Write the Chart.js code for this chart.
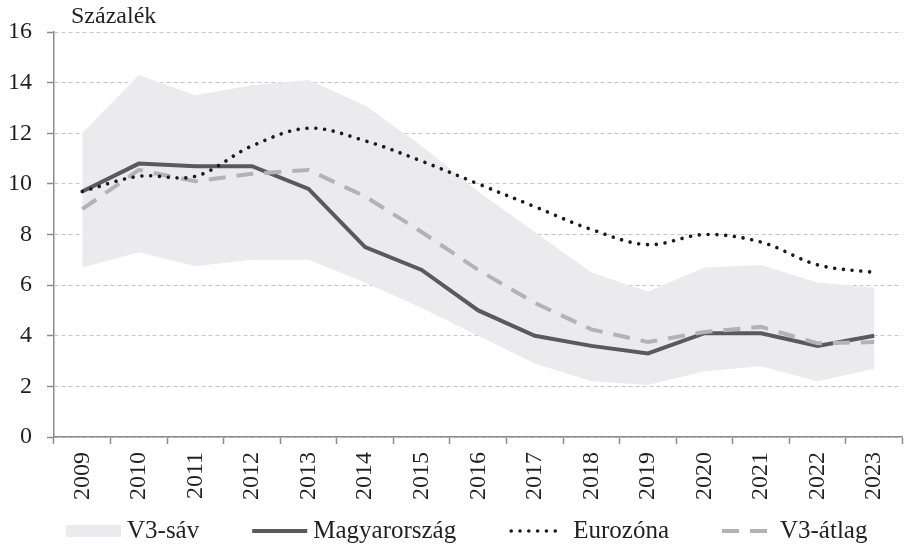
<!DOCTYPE html>
<html>
<head>
<meta charset="utf-8">
<script src="https://cdn.jsdelivr.net/npm/chart.js@4/dist/chart.umd.min.js"></script>
<style>
    html, body { margin: 0; padding: 0; background: #fff; }
    #wrap { width: 911px; height: 547px; position: relative; }
</style>
</head>
<body>
<div id="wrap"><canvas id="unemploymentChart"></canvas></div>
<script>
const years = ['2009', '2010', '2011', '2012', '2013', '2014', '2015', '2016',
    '2017', '2018', '2019', '2020', '2021', '2022', '2023'];
const bandLow = [6.7, 7.3, 6.75, 7.0, 7.0, 6.1, 5.1, 4.0, 2.9, 2.2, 2.05, 2.6, 2.8, 2.2, 2.7];
const bandHigh = [12.0, 14.3, 13.5, 13.9, 14.1, 13.1, 11.5, 9.7, 8.1, 6.5, 5.75, 6.7, 6.8, 6.1, 5.9];
const hungary = [9.7, 10.8, 10.7, 10.7, 9.8, 7.5, 6.6, 5.0, 4.0, 3.6, 3.3, 4.1, 4.1, 3.6, 4.0];
const euroArea = [9.7, 10.3, 10.3, 11.5, 12.2, 11.7, 10.9, 10.0, 9.1, 8.2, 7.6, 8.0, 7.7, 6.8, 6.5];
const v3Average = [9.0, 10.55, 10.1, 10.4, 10.55, 9.5, 8.1, 6.6, 5.3, 4.25, 3.75, 4.15, 4.35, 3.7, 3.75];
const yTicks = [0, 2, 4, 6, 8, 10, 12, 14, 16];

const serif = 'Liberation Serif';
const textColor = '#231f20';
const axisColor = '#8c8c8c';
const bandColor = '#ebebed';

// "Százalék" label above the y axis
const unitLabel = {
    id: 'unitLabel',
    afterDraw(chart) {
        const ctx = chart.ctx;
        ctx.save();
        ctx.font = '24px "' + serif + '"';
        ctx.fillStyle = textColor;
        ctx.textBaseline = 'alphabetic';
        ctx.fillText('Százalék', 71, 23);
        ctx.restore();
    }
};

// bottom legend, one row; symbols use the datasets' own line styles
const bottomLegend = {
    id: 'bottomLegend',
    afterDraw(chart) {
        const ctx = chart.ctx;
        const y = 531;
        let x = 66;
        ctx.save();
        ctx.font = '25px "' + serif + '"';
        ctx.textBaseline = 'middle';
        chart.data.datasets.forEach(ds => {
            if (!ds.legendWidth) return;
            const w = ds.legendWidth;
            if (ds.fill) {
                ctx.fillStyle = ds.backgroundColor;
                ctx.fillRect(x, y - 6, w, 12);
            } else {
                ctx.strokeStyle = ds.borderColor;
                ctx.lineWidth = ds.borderWidth;
                ctx.lineCap = ds.borderCapStyle || 'butt';
                ctx.setLineDash(ds.borderDash || []);
                ctx.beginPath();
                ctx.moveTo(x + (ds.borderCapStyle === 'round' ? 2 : 0), y);
                ctx.lineTo(x + w, y);
                ctx.stroke();
                ctx.setLineDash([]);
            }
            x += w + (ds.legendGap || 6);
            ctx.fillStyle = textColor;
            ctx.fillText(ds.label, x, y);
            x += ctx.measureText(ds.label).width + 53;
        });
        ctx.restore();
    }
};

const chartElement = document.getElementById('unemploymentChart');
new Chart(chartElement, {
    type: 'line',
    data: {
        labels: years,
        datasets: [
            {
                label: 'band-low',
                data: bandLow,
                borderWidth: 0,
                pointRadius: 0,
                backgroundColor: bandColor,
                fill: false,
                order: 10
            },
            {
                label: 'V3-sáv',
                data: bandHigh,
                borderWidth: 0,
                borderColor: bandColor,
                pointRadius: 0,
                backgroundColor: bandColor,
                fill: '-1',
                order: 9,
                legendWidth: 55
            },
            {
                label: 'Magyarország',
                data: hungary,
                borderColor: '#5a5a5a',
                borderWidth: 4,
                pointRadius: 0,
                tension: 0,
                order: 3,
                legendWidth: 55
            },
            {
                label: 'Eurozóna',
                data: euroArea,
                borderColor: '#1a1a1a',
                borderWidth: 3.6,
                borderDash: [0.01, 8.8],
                borderCapStyle: 'round',
                pointRadius: 0,
                tension: 0.35,
                order: 1,
                legendWidth: 52,
                legendGap: 12
            },
            {
                label: 'V3-átlag',
                data: v3Average,
                borderColor: '#b3b3b3',
                borderWidth: 4,
                borderDash: [17, 11],
                pointRadius: 0,
                tension: 0,
                order: 2,
                legendWidth: 50,
                legendGap: 8
            }
        ]
    },
    options: {
        responsive: true,
        maintainAspectRatio: false,
        animation: false,
        layout: { padding: { top: 32, right: 0, left: 0, bottom: 45 } },
        scales: {
            x: {
                type: 'category',
                offset: true,
                grid: {
                    drawOnChartArea: false,
                    drawTicks: true,
                    offset: true,
                    tickLength: 7,
                    tickColor: axisColor,
                    tickWidth: 1.5
                },
                border: { color: axisColor, width: 1.5 },
                ticks: {
                    minRotation: 90,
                    maxRotation: 90,
                    padding: 8,
                    color: textColor,
                    font: { family: serif, size: 24 }
                },
                afterFit: (scale) => { scale.height = 65; }
            },
            y: {
                min: 0,
                max: 16,
                afterBuildTicks: (scale) => {
                    scale.ticks = yTicks.map(v => ({ value: v }));
                },
                grid: {
                    color: '#c8c8c8',
                    lineWidth: 1,
                    tickLength: 7,
                    tickColor: axisColor,
                    tickWidth: 1.5,
                    tickBorderDash: []
                },
                border: { color: axisColor, width: 1.5, dash: [4, 3] },
                ticks: {
                    padding: 15,
                    color: textColor,
                    font: { family: serif, size: 24 }
                },
                afterFit: (scale) => { scale.width = 54; }
            }
        },
        plugins: {
            title: { display: false },
            tooltip: { enabled: false },
            legend: { display: false }
        }
    },
    plugins: [unitLabel, bottomLegend]
});
</script>
</body>
</html>
